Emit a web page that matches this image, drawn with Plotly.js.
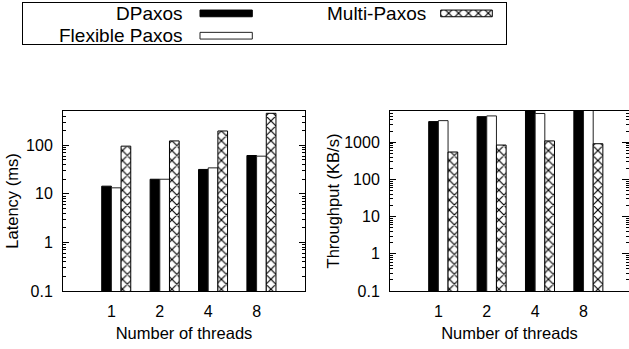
<!DOCTYPE html>
<html>
<head>
<meta charset="utf-8">
<script src="https://cdn.plot.ly/plotly-3.0.1.min.js"></script>
<style>
  html, body { margin: 0; padding: 0; background: #fff; }
  #chart { width: 629px; height: 349px; }
</style>
</head>
<body>
<div id="chart"></div>
<script>
// ---- data ----
const threads = ['1', '2', '4', '8'];
const seriesNames = ['DPaxos', 'Flexible Paxos', 'Multi-Paxos'];
const latencyDPaxos = [14.4, 20, 31.8, 61.6];
const latencyFlexible = [13.3, 20, 34.3, 59.7];
const latencyMulti = [96, 123, 197, 455];
const throughputDPaxos = [3580, 4870, 8000, 8000];
const throughputFlexible = [3800, 5090, 5900, 7500];
const throughputMulti = [545, 838, 1083, 910];
const yTickVals = [0.1, 1, 10, 100, 1000];
const yTickText = ['0.1', '1', '10', '100', '1000'];

// ---- layout constants (pixels) ----
const W = 629, H = 349;
const FONT = 'Liberation Sans, Arial, Helvetica, sans-serif';
const px = v => v / W;
const py = v => (H - v) / H;

const styles = [
  { color: '#000000', line: '#000000', pattern: '' },
  { color: '#ffffff', line: '#222222', pattern: '' },
  { color: '#ffffff', line: '#000000', pattern: 'x' }
];
const offsets = [-0.2, 0, 0.2];
const barW = 0.2;

function markerFor(i) {
  const s = styles[i];
  const m = { color: s.color, line: { color: s.line, width: 1 } };
  if (s.pattern) {
    m.pattern = { shape: s.pattern, fgcolor: '#000', bgcolor: '#fff', size: 7, solidity: 0.3, fillmode: 'replace' };
  }
  return m;
}

function barTrace(name, y, i, xa, ya) {
  return {
    type: 'bar', name: name, x: threads, y: y, xaxis: xa, yaxis: ya,
    offset: offsets[i], width: barW, showlegend: false,
    marker: markerFor(i), hoverinfo: 'skip'
  };
}

const traces = [
  barTrace(seriesNames[0], latencyDPaxos, 0, 'x', 'y'),
  barTrace(seriesNames[1], latencyFlexible, 1, 'x', 'y'),
  barTrace(seriesNames[2], latencyMulti, 2, 'x', 'y'),
  barTrace(seriesNames[0], throughputDPaxos, 0, 'x2', 'y2'),
  barTrace(seriesNames[1], throughputFlexible, 1, 'x2', 'y2'),
  barTrace(seriesNames[2], throughputMulti, 2, 'x2', 'y2')
];

// legend samples (drawn as bars on a pixel-scaled helper axis)
const legendSamples = {
  y: [13.4, 35.7, 13.4],
  base: [200, 200, 440.7],
  len: [52.3, 52.3, 51.6],
  textX: [184, 184, 427]
};
seriesNames.forEach((n, i) => {
  traces.push({
    type: 'bar', orientation: 'h', xaxis: 'x3', yaxis: 'y3', showlegend: false, name: n,
    y: [legendSamples.y[i]], base: [legendSamples.base[i]], x: [legendSamples.len[i]], width: 6.7,
    marker: markerFor(i), hoverinfo: 'skip'
  });
});

const tickFont = { family: FONT, size: 16, color: '#000' };
const titleFont = { family: FONT, size: 16.5, color: '#000' };

function yAxis(range, domain, extra) {
  return Object.assign({
    type: 'log', range: range, domain: domain,
    tickvals: yTickVals, ticktext: yTickText,
    ticks: 'inside', ticklen: 6, tickwidth: 1, tickcolor: '#000',
    minor: { ticks: 'inside', ticklen: 3, tickwidth: 1, tickcolor: '#000', dtick: 'D1', showgrid: false },
    showline: true, linecolor: '#000', linewidth: 1,
    showgrid: false, zeroline: false, tickfont: tickFont,
    ticklabelstandoff: 6, fixedrange: true
  }, extra);
}
function xAxis(range, domain, extra) {
  return Object.assign({
    type: 'category', range: range, domain: domain,
    ticks: '', showline: true, mirror: true, linecolor: '#000', linewidth: 1,
    showgrid: false, zeroline: false, tickfont: tickFont,
    ticklabelstandoff: 6, fixedrange: true,
    title: { text: 'Number of threads', font: titleFont, standoff: 8 }
  }, extra);
}

const yDom = [py(291), py(111)];

const layout = {
  width: W, height: H,
  margin: { l: 0, r: 0, t: 0, b: 0, pad: 0 },
  paper_bgcolor: '#fff', plot_bgcolor: 'rgba(0,0,0,0)',
  barmode: 'overlay',
  font: { family: FONT, color: '#000' },
  xaxis: xAxis([-1, 4], [px(63), px(305)], { anchor: 'y' }),
  yaxis: yAxis([-1, Math.log10(508)], yDom, {
    anchor: 'x', mirror: 'allticks',
    title: { text: 'Latency (ms)', font: titleFont, standoff: 3 }
  }),
  xaxis2: xAxis([-1, 3.94], [px(390), 1], { anchor: 'y2' }),
  yaxis2: yAxis([-1, Math.log10(6900)], yDom, {
    anchor: 'x2', mirror: false,
    title: { text: 'Throughput (KB/s)', font: titleFont, standoff: 0 }
  }),
  yaxis4: yAxis([-1, Math.log10(6900)], yDom, {
    anchor: 'x2', overlaying: 'y2', side: 'right', showline: false,
    showticklabels: false, ticklen: 7
  }),
  xaxis3: {
    domain: [px(23), px(505.5)], range: [23, 505.5], anchor: 'y3',
    showline: true, mirror: true, linecolor: '#000', linewidth: 1,
    showticklabels: false, ticks: '', showgrid: false, zeroline: false, fixedrange: true
  },
  yaxis3: {
    domain: [py(44.3), py(3.3)], range: [44.3, 3.3], anchor: 'x3',
    showline: true, mirror: true, linecolor: '#000', linewidth: 1,
    showticklabels: false, ticks: '', showgrid: false, zeroline: false, fixedrange: true
  },
  annotations: seriesNames.map((n, i) => ({
    text: n, xref: 'x3', yref: 'y3', x: legendSamples.textX[i], y: legendSamples.y[i],
    xanchor: 'right', yanchor: 'middle', showarrow: false, borderpad: 0,
    font: { family: FONT, size: 19, color: '#000' }
  }))
};

// Invisible trace on yaxis4 so the right-hand tick axis is drawn
traces.push({ type: 'scatter', x: [threads[0]], y: [1], xaxis: 'x2', yaxis: 'y4', mode: 'markers',
  marker: { opacity: 0 }, showlegend: false, hoverinfo: 'skip' });

Plotly.newPlot('chart', traces, layout, { displayModeBar: false, staticPlot: true });
</script>
</body>
</html>
